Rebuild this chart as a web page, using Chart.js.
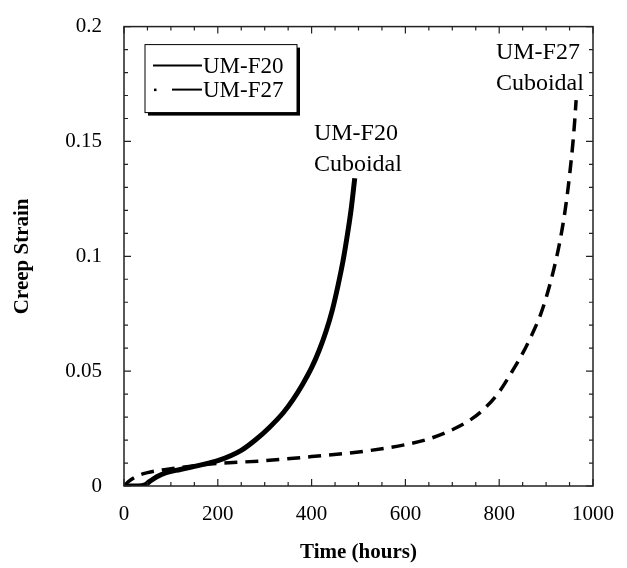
<!DOCTYPE html>
<html>
<head>
<meta charset="UTF-8">
<title>Creep Strain</title>
<script src="https://cdn.jsdelivr.net/npm/chart.js"></script>
<style>
  html, body { margin: 0; padding: 0; background: #fff; }
  canvas { display: block; }
</style>
</head>
<body>
<canvas id="creep" width="627" height="568"></canvas>
<script>
// UM-F20 (solid)
var f20Hours  = [0, 30, 45, 55, 70, 90, 120, 160, 200, 250, 280, 310, 340, 360, 380, 400, 416, 431, 444, 456, 467, 476, 484, 492];
var f20Strain = [0, 0, 0.0005, 0.002, 0.004, 0.0058, 0.0072, 0.009, 0.011, 0.0155, 0.02, 0.0255, 0.032, 0.0375, 0.044, 0.0515, 0.059, 0.0675, 0.0765, 0.087, 0.098, 0.109, 0.12, 0.134];

// UM-F27 (dashed)
var f27Hours  = [0, 10, 30, 50, 75, 100, 150, 200, 300, 400, 500, 600, 650, 700, 740, 770, 800, 825, 848, 870, 887, 903, 916, 927, 936, 944, 951, 957, 961, 964];
var f27Strain = [0, 0.002, 0.0045, 0.0058, 0.0068, 0.0075, 0.0088, 0.0098, 0.011, 0.0128, 0.0148, 0.018, 0.0205, 0.0245, 0.029, 0.034, 0.041, 0.049, 0.057, 0.066, 0.074, 0.084, 0.094, 0.104, 0.114, 0.125, 0.137, 0.149, 0.159, 0.168];

var xTicks = [0, 200, 400, 600, 800, 1000];
var xTickLabels = ["0", "200", "400", "600", "800", "1000"];
var yTicks = [0, 0.05, 0.1, 0.15, 0.2];
var yTickLabels = ["0", "0.05", "0.1", "0.15", "0.2"];

// text labels placed at data coordinates
var notes = [
    {x: 405, y: 0.1535, text: "UM-F20"},
    {x: 405, y: 0.14, text: "Cuboidal"},
    {x: 793, y: 0.1887, text: "UM-F27"},
    {x: 793, y: 0.175, text: "Cuboidal"}
];

var serif = "'Liberation Serif', 'Times New Roman', serif";

function toPoints(xs, ys) {
    var out = [];
    for (var i = 0; i < xs.length; i++) out.push({x: xs[i], y: ys[i]});
    return out;
}

// box frame with inward major/minor ticks on all four sides
var frameTicks = {
    id: 'frameTicks',
    afterDatasetsDraw: function (chart) {
        var ctx = chart.ctx, a = chart.chartArea;
        var xs = chart.scales.x, ys = chart.scales.y;
        ctx.save();
        ctx.strokeStyle = '#222';
        ctx.lineWidth = 1.5;
        ctx.strokeRect(a.left, a.top, a.right - a.left, a.bottom - a.top);
        ctx.lineWidth = 1.2;
        ctx.beginPath();
        for (var v = 0; v <= 1000; v += 50) {
            var px = xs.getPixelForValue(v);
            var len = (v % 200 === 0) ? 7 : 4;
            ctx.moveTo(px, a.bottom); ctx.lineTo(px, a.bottom - len);
            ctx.moveTo(px, a.top); ctx.lineTo(px, a.top + len);
        }
        for (var k = 0; k <= 20; k++) {
            var py = ys.getPixelForValue(k * 0.01);
            var l2 = (k % 5 === 0) ? 7 : 4;
            ctx.moveTo(a.left, py); ctx.lineTo(a.left + l2, py);
            ctx.moveTo(a.right, py); ctx.lineTo(a.right - l2, py);
        }
        ctx.stroke();

        // annotations
        ctx.fillStyle = '#000';
        ctx.font = '24px ' + serif;
        ctx.textAlign = 'left';
        ctx.textBaseline = 'middle';
        notes.forEach(function (n) {
            ctx.fillText(n.text, xs.getPixelForValue(n.x), ys.getPixelForValue(n.y));
        });

        // legend box with drop shadow
        var bx = a.left + 21, by = a.top + 18, bw = 152, bh = 68;
        ctx.fillStyle = '#000';
        ctx.fillRect(bx + 3, by + 3, bw, bh);
        ctx.fillStyle = '#fff';
        ctx.fillRect(bx, by, bw, bh);
        ctx.lineWidth = 1;
        ctx.strokeStyle = '#000';
        ctx.strokeRect(bx, by, bw, bh);

        ctx.font = '23px ' + serif;
        ctx.fillStyle = '#000';
        var ds = chart.data.datasets;
        var rowY = [by + 21, by + 45];
        ctx.lineWidth = 2;
        ctx.beginPath();
        ctx.moveTo(bx + 8, rowY[0]); ctx.lineTo(bx + 57, rowY[0]);
        ctx.stroke();
        ctx.fillRect(bx + 9, rowY[1] - 1, 2.5, 2.5);
        ctx.beginPath();
        ctx.moveTo(bx + 27, rowY[1]); ctx.lineTo(bx + 57, rowY[1]);
        ctx.stroke();
        ctx.fillText(ds[0].label, bx + 58, rowY[0] + 1);
        ctx.fillText(ds[1].label, bx + 58, rowY[1] + 1);
        ctx.restore();
    }
};

var ctx = document.getElementById("creep");
var creepChart = new Chart(ctx, {
    type: 'line',
    data: {
        datasets: [
            {
                label: "UM-F20",
                data: toPoints(f20Hours, f20Strain),
                borderColor: "#000",
                borderWidth: 5,
                pointRadius: 0,
                cubicInterpolationMode: 'monotone',
                fill: false
            },
            {
                label: "UM-F27",
                data: toPoints(f27Hours, f27Strain),
                borderColor: "#000",
                borderWidth: 3.5,
                borderDash: [13, 8],
                pointRadius: 0,
                cubicInterpolationMode: 'monotone',
                fill: false
            }
        ]
    },
    options: {
        responsive: false,
        animation: false,
        devicePixelRatio: 1,
        layout: { padding: { top: 20, right: 34, left: 0, bottom: 0 } },
        plugins: {
            legend: { display: false },
            tooltip: { enabled: false }
        },
        scales: {
            x: {
                type: 'linear',
                min: 0,
                max: 1000,
                grid: { display: false },
                border: { display: false },
                afterBuildTicks: function (s) { s.ticks = xTicks.map(function (v) { return {value: v}; }); },
                afterFit: function (s) { s.height = 82; },
                ticks: {
                    color: '#000',
                    padding: 8,
                    font: { family: serif, size: 21 },
                    callback: function (v) {
                        var i = xTicks.indexOf(v);
                        return i >= 0 ? xTickLabels[i] : '';
                    }
                },
                title: {
                    display: true,
                    text: 'Time (hours)',
                    color: '#000',
                    padding: 3,
                    font: { family: serif, size: 21, weight: 'bold' }
                }
            },
            y: {
                min: 0,
                max: 0.2,
                grid: { display: false },
                border: { display: false },
                afterBuildTicks: function (s) { s.ticks = yTicks.map(function (v) { return {value: v}; }); },
                afterFit: function (s) { s.width = 124; },
                ticks: {
                    color: '#000',
                    padding: 14,
                    font: { family: serif, size: 21 },
                    callback: function (v) {
                        var i = yTicks.indexOf(v);
                        return i >= 0 ? yTickLabels[i] : '';
                    }
                },
                title: {
                    display: true,
                    text: 'Creep Strain',
                    color: '#000',
                    padding: 10,
                    font: { family: serif, size: 21, weight: 'bold' }
                }
            }
        }
    },
    plugins: [frameTicks]
});
</script>
</body>
</html>
